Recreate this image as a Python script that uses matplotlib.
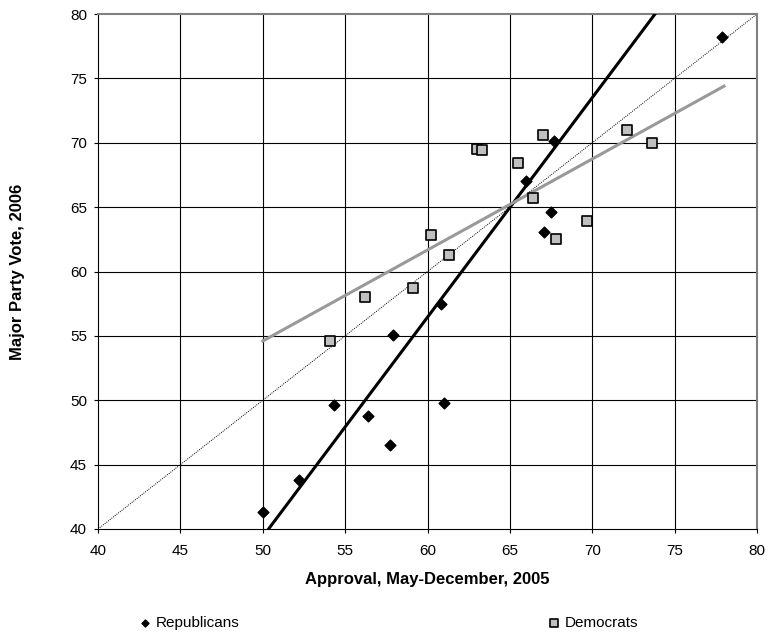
import matplotlib
matplotlib.use("Agg")
import matplotlib.pyplot as plt
import numpy as np

plt.rcParams['font.family'] = ['Liberation Sans', 'DejaVu Sans']

# approval (x) and major party vote (y)
rep_approval = [50.0, 52.2, 54.3, 56.4, 57.7, 57.9, 60.8, 61.0, 66.0, 67.7, 67.5, 67.1, 77.9]
rep_vote = [41.3, 43.8, 49.6, 48.8, 46.5, 55.1, 57.5, 49.8, 67.0, 70.1, 64.6, 63.1, 78.2]

dem_approval = [54.1, 56.2, 59.1, 60.2, 61.3, 63.0, 63.3, 65.5, 66.4, 67.0, 67.8, 69.7, 72.1, 73.6]
dem_vote = [54.6, 58.0, 58.7, 62.8, 61.3, 69.5, 69.4, 68.4, 65.7, 70.6, 62.5, 63.9, 71.0, 70.0]

# trend lines as drawn in the original (slope, intercept)
rep_trend = [1.705, -45.85]
dem_trend = [0.707, 19.25]
trend_x = [50, 78]

x_ticks = [40, 45, 50, 55, 60, 65, 70, 75, 80]
y_ticks = [40, 45, 50, 55, 60, 65, 70, 75, 80]

fig = plt.figure(figsize=(7.69, 6.37), dpi=100)
ax = fig.add_axes([98/769, 1 - 529/637, (757-98)/769, (529-14)/637])

# grid first so marks sit on top
for t in x_ticks[1:-1]:
    ax.axvline(t, color='black', linewidth=0.8, zorder=1)
for t in y_ticks[1:-1]:
    ax.axhline(t, color='black', linewidth=0.8, zorder=1)

# 45 degree reference line
ax.plot([40, 80], [40, 80], color='black', linestyle=(0, (1, 1.2)), linewidth=0.7, zorder=2)

xs = np.array(trend_x)
ax.plot(xs, np.polyval(rep_trend, xs), color='black', linewidth=2.2, zorder=3)
ax.plot(xs, np.polyval(dem_trend, xs), color='#999999', linewidth=2.2, zorder=3)

rep = ax.scatter(rep_approval, rep_vote, marker='D', s=30, color='black', zorder=4, label='Republicans')
dem = ax.scatter(dem_approval, dem_vote, marker='s', s=55, facecolor='#c0c0c0', edgecolor='black',
                 linewidth=1.2, zorder=4, label='Democrats')

ax.set_xlim(40, 80)
ax.set_ylim(40, 80)
ax.set_xticks(x_ticks)
ax.set_yticks(y_ticks)
ax.tick_params(length=3, width=0.8, labelsize=11)
ax.tick_params(axis='x', pad=8)
ax.tick_params(axis='y', pad=5)
ax.spines['left'].set_linewidth(0.8)
ax.spines['bottom'].set_linewidth(0.8)
ax.spines['top'].set_color('#808080')
ax.spines['right'].set_color('#808080')
ax.spines['top'].set_linewidth(1.5)
ax.spines['right'].set_linewidth(1.5)

ax.set_xlabel('Approval, May-December, 2005', fontsize=12, fontweight='bold', labelpad=10)
ax.set_ylabel('Major Party Vote, 2006', fontsize=12, fontweight='bold', labelpad=32)

# two separate legend entries, spread apart like the original
fig.legend(handles=[rep], loc='center left', bbox_to_anchor=(124/769, 1 - 623/637), frameon=False,
           fontsize=11, handletextpad=0.2, handlelength=1.0, markerscale=0.65)
fig.legend(handles=[dem], loc='center left', bbox_to_anchor=(533/769, 1 - 623/637), frameon=False,
           fontsize=11, handletextpad=0.2, handlelength=1.0, markerscale=0.8)

fig.savefig('out.png', dpi=100)
